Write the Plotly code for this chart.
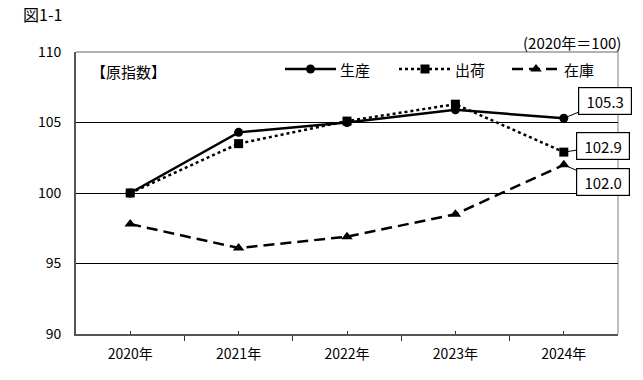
import plotly.graph_objects as go

years = ["2020年", "2021年", "2022年", "2023年", "2024年"]
production = [100.0, 104.3, 105.0, 105.9, 105.3]
shipment = [100.0, 103.5, 105.1, 106.3, 102.9]
inventory = [97.8, 96.1, 96.9, 98.5, 102.0]
series_names = ["生産", "出荷", "在庫"]
y_ticks = [90, 95, 100, 105, 110]

FONT = "Noto Sans CJK JP"
W, H = 643, 380
ML, MR, MT, MB = 76, 25, 52, 46
PW, PH = W - ML - MR, H - MT - MB

def px(x):
    return (x - ML) / PW

def py(y):
    return (H - MB - y) / PH

styles = [
    dict(dash="solid", symbol="circle", size=9),
    dict(dash="3px,3px", symbol="square", size=9),
    dict(dash="11px,6px", symbol="triangle-up", size=10),
]

xpos = list(range(len(years)))

fig = go.Figure()
for name, vals, st in zip(series_names, [production, shipment, inventory], styles):
    fig.add_trace(go.Scatter(x=xpos, y=vals, name=name, mode="lines+markers",
                             line=dict(color="black", width=2.5, dash=st["dash"]),
                             marker=dict(symbol=st["symbol"], size=st["size"], color="black"),
                             showlegend=False))

# custom legend (layout positions in pixels)
legend_x = [(285, 336), (399, 451), (512, 560)]
legend_y = 69
for (x0, x1), name, st in zip(legend_x, series_names, styles):
    fig.add_trace(go.Scatter(x=[px(x0), px((x0 + x1) / 2), px(x1)],
                             y=[py(legend_y)] * 3, xaxis="x2", yaxis="y2",
                             mode="lines", line=dict(color="black", width=2.5, dash=st["dash"]),
                             showlegend=False, hoverinfo="skip"))
    fig.add_trace(go.Scatter(x=[px((x0 + x1) / 2)], y=[py(legend_y)], xaxis="x2", yaxis="y2",
                             mode="markers",
                             marker=dict(symbol=st["symbol"], size=st["size"], color="black"),
                             showlegend=False, hoverinfo="skip"))
    fig.add_annotation(text=name, xref="paper", yref="paper", x=px(x1 + 2), y=py(legend_y),
                       xanchor="left", yanchor="middle", showarrow=False, font=dict(size=15))

fig.update_layout(
    width=W, height=H,
    margin=dict(l=ML, r=MR, t=MT, b=MB),
    paper_bgcolor="white", plot_bgcolor="white",
    font=dict(family=FONT, size=12, color="black"),
    showlegend=False,
    xaxis=dict(range=[-0.5, len(years) - 0.5], tickvals=xpos, ticktext=years,
               ticks="inside", ticklen=3, tickwidth=1, tickcolor="#333",
               minor=dict(tick0=-0.5, dtick=1, ticks="outside", ticklen=5,
                          tickcolor="#333", tickwidth=1, showgrid=False),
               showline=True, linecolor="#555", linewidth=2, showgrid=False,
               zeroline=False, tickfont=dict(size=14), ticklabelstandoff=6),
    yaxis=dict(range=[y_ticks[0], y_ticks[-1]], tickvals=y_ticks, showgrid=True,
               gridcolor="black", gridwidth=1, showline=True, linecolor="#555",
               linewidth=2, ticks="", tickfont=dict(size=14), zeroline=False,
               ticklabelstandoff=10),
    xaxis2=dict(overlaying="x", range=[0, 1], visible=False, fixedrange=True),
    yaxis2=dict(overlaying="y", range=[0, 1], visible=False, fixedrange=True),
)
# top and right border
fig.add_shape(type="line", xref="paper", yref="paper", x0=0, x1=1, y0=1, y1=1,
              line=dict(color="#999", width=1.5), layer="below")
fig.add_shape(type="line", xref="paper", yref="paper", x0=1, x1=1, y0=0, y1=1,
              line=dict(color="#aaa", width=1.5), layer="below")

fig.add_annotation(text="図1-1", xref="paper", yref="paper", x=px(21), y=py(14),
                   xanchor="left", yanchor="middle", showarrow=False, font=dict(size=16))
fig.add_annotation(text="(2020年＝100)", xref="paper", yref="paper", x=px(623), y=py(42),
                   xanchor="right", yanchor="middle", showarrow=False, font=dict(size=15))
fig.add_annotation(text="【原指数】", xref="paper", yref="paper", x=px(89), y=py(71),
                   xanchor="left", yanchor="middle", showarrow=False, font=dict(size=15))

labels = [(production[-1], -17, 41, "105.3"),
          (shipment[-1], -6, 39, "102.9"),
          (inventory[-1], 17, 39, "102.0")]
for val, dy, dx, txt in labels:
    fig.add_annotation(x=xpos[-1], y=val, text=txt, showarrow=True, arrowhead=0,
                       arrowwidth=1, arrowcolor="black", ax=dx, ay=dy, xanchor="center",
                       yanchor="middle", bordercolor="black", borderwidth=1.2, borderpad=3,
                       width=46, height=20, bgcolor="white", font=dict(size=15), standoff=0)

fig.write_html("out.html", config={"displayModeBar": False},
               post_script="document.body.style.margin='0';")
